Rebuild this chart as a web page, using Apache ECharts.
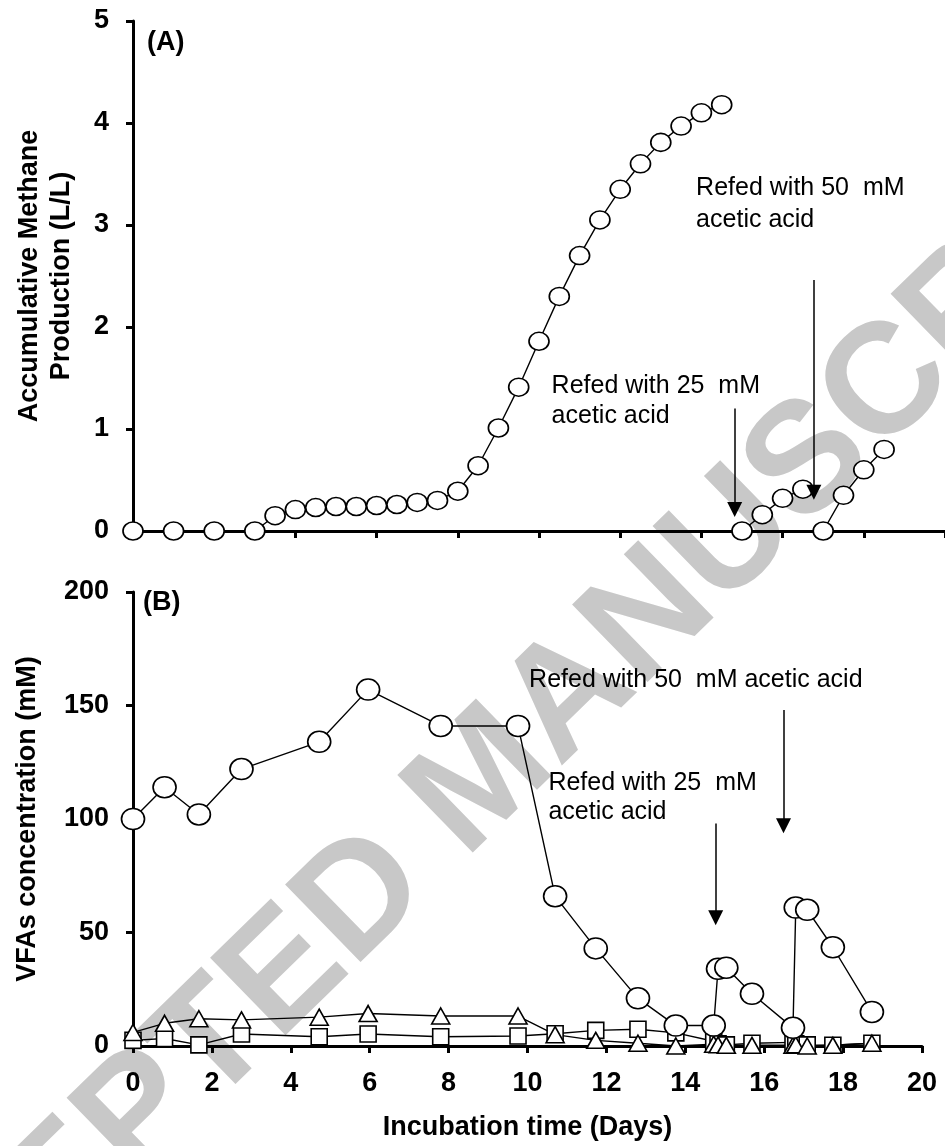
<!DOCTYPE html>
<html lang="en">
<head>
<meta charset="UTF-8">
<title>Methane production and VFAs</title>
<style>
    html, body { margin: 0; padding: 0; background: #fff; }
    #main { width: 945px; height: 1146px; }
</style>
</head>
<body>
<div id="main"></div>
<script src="https://cdn.jsdelivr.net/npm/echarts@6/dist/echarts.min.js"></script>
<script>
    // (A) accumulative methane production, L/L
    const methaneDays = [0, 1, 2, 3, 3.5, 4, 4.5, 5, 5.5, 6, 6.5, 7, 7.5, 8, 8.5, 9, 9.5, 10, 10.5, 11, 11.5, 12, 12.5, 13, 13.5, 14, 14.5];
    const methane = [0, 0, 0, 0, 0.15, 0.21, 0.23, 0.24, 0.24, 0.25, 0.26, 0.28, 0.3, 0.39, 0.64, 1.01, 1.41, 1.86, 2.3, 2.7, 3.05, 3.35, 3.6, 3.81, 3.97, 4.1, 4.18];
    const refeed25Days = [15, 15.5, 16, 16.5];
    const refeed25Methane = [0, 0.16, 0.32, 0.41];
    const refeed50Days = [17, 17.5, 18, 18.5];
    const refeed50Methane = [0, 0.35, 0.6, 0.8];

    // (B) VFAs concentration, mM
    const vfaDays = [0, 0.8, 1.67, 2.75, 4.72, 5.96, 7.8, 9.76, 10.7, 11.73, 12.8, 13.76, 14.72, 14.83, 15.04, 15.69, 16.73, 16.8, 17.09, 17.74, 18.73];
    const vfaCircle = [100, 114, 102, 122, 134, 157, 141, 141, 66, 43, 21, 9, 9, 34, 34.5, 23, 8, 61, 60, 43.5, 15];
    const vfaTriangle = [6, 10, 12, 11.5, 12.7, 14.3, 13.2, 13.2, 5, 2.5, 1.2, 0, 0.8, 0.5, 0.3, 0.3, 0.3, 0.5, 0, 0.3, 1.2];
    const vfaSquare = [2.5, 3.3, 0.5, 5.3, 4.1, 5.3, 4.1, 4.4, 5.4, 6.9, 7.4, 5.8, 2.1, 1.0, 0.5, 1.2, 1.6, 1.0, 0.5, 0.3, 1.2];

    // annotations, in data units of each panel
    const topNotes = [
        {lines: ['Refed with 50  mM', 'acetic acid'], x: 13.87, y: [3.36, 3.05]},
        {lines: ['Refed with 25  mM', 'acetic acid'], x: 10.31, y: [1.42, 1.13]}
    ];
    // [day, start, arrow head centre]
    const topArrows = [[14.82, 1.2, 0.21], [16.77, 2.46, 0.38]];
    const bottomNotes = [
        {lines: ['Refed with 50  mM acetic acid'], x: 10.04, y: [161]},
        {lines: ['Refed with 25  mM', 'acetic acid'], x: 10.53, y: [116, 103]}
    ];
    const bottomArrows = [[14.77, 98, 56.5], [16.49, 148, 97]];

    const FONT = 'Arial, "Liberation Sans", Helvetica, sans-serif';
    const chart = echarts.init(document.getElementById('main'));

    function pairs(xs, ys) {
        return xs.map((x, i) => [x, ys[i]]);
    }

    function lineSeries(idx, data, symbol, size) {
        return {
            type: 'line',
            xAxisIndex: idx,
            yAxisIndex: idx,
            data: data,
            symbol: symbol,
            symbolSize: size,
            showAllSymbol: true,
            clip: false,
            lineStyle: {color: '#000', width: 1.4},
            itemStyle: {color: '#fff', borderColor: '#000', borderWidth: 1.6},
            emphasis: {disabled: true}
        };
    }

    function arrowSeries(idx, arrows) {
        return {
            type: 'line',
            xAxisIndex: idx,
            yAxisIndex: idx,
            data: [],
            markLine: {
                silent: true,
                symbol: ['none', 'triangle'],
                symbolSize: 15,
                label: {show: false},
                lineStyle: {color: '#000', width: 1.5, type: 'solid'},
                data: arrows.map(a => [{coord: [a[0], a[1]]}, {coord: [a[0], a[2]]}])
            }
        };
    }

    const axisLine = {show: true, onZero: false, lineStyle: {color: '#000', width: 3}};
    const axisTick = {show: true, length: 7, lineStyle: {color: '#000', width: 3}};
    const tickLabel = {color: '#000', fontFamily: FONT, fontWeight: 'bold', fontSize: 27};
    const nameStyle = {color: '#000', fontFamily: FONT, fontWeight: 'bold', fontSize: 27, lineHeight: 32};

    const option = {
        animation: false,
        backgroundColor: '#fff',
        grid: [
            {left: 133, top: 21, width: 812, height: 510},
            {left: 133, top: 592, width: 789, height: 454}
        ],
        xAxis: [
            {gridIndex: 0, type: 'value', min: 0, max: 20, interval: 2,
                axisLine, axisTick, axisLabel: {show: false}, splitLine: {show: false}},
            {gridIndex: 1, type: 'value', min: 0, max: 20, interval: 2,
                axisLine, axisTick, axisLabel: Object.assign({margin: 24}, tickLabel), splitLine: {show: false},
                name: 'Incubation time (Days)', nameLocation: 'middle', nameGap: 66, nameTextStyle: nameStyle}
        ],
        yAxis: [
            {gridIndex: 0, type: 'value', min: 0, max: 5, interval: 1,
                axisLine, axisTick, axisLabel: Object.assign({margin: 24}, tickLabel), splitLine: {show: false},
                name: 'Accumulative Methane\nProduction (L/L)', nameLocation: 'middle', nameGap: 55, nameTextStyle: nameStyle},
            {gridIndex: 1, type: 'value', min: 0, max: 200, interval: 50,
                axisLine, axisTick, axisLabel: Object.assign({margin: 24}, tickLabel), splitLine: {show: false},
                name: 'VFAs concentration (mM)', nameLocation: 'middle', nameGap: 89, nameTextStyle: nameStyle}
        ],
        series: [
            lineSeries(0, pairs(methaneDays, methane), 'circle', [20, 18]),
            lineSeries(0, pairs(refeed25Days, refeed25Methane), 'circle', [20, 18]),
            lineSeries(0, pairs(refeed50Days, refeed50Methane), 'circle', [20, 18]),
            lineSeries(1, pairs(vfaDays, vfaSquare), 'rect', [16, 16]),
            lineSeries(1, pairs(vfaDays, vfaTriangle), 'triangle', [18, 16]),
            lineSeries(1, pairs(vfaDays, vfaCircle), 'circle', [23, 21]),
            arrowSeries(0, topArrows),
            arrowSeries(1, bottomArrows)
        ]
    };

    chart.setOption(option);

    // watermark, panel letters and refeed notes
    const graphics = [{
        type: 'text', z: -10, silent: true,
        x: 485, y: 780, rotation: 0.773,
        style: {text: 'ACCEPTED MANUSCRIPT', fill: '#c8c8c8', font: 'bold 157px ' + FONT,
            textAlign: 'center', textVerticalAlign: 'middle'}
    }];
    function addNotes(idx, notes) {
        notes.forEach(n => {
            n.lines.forEach((line, i) => {
                const p = chart.convertToPixel({gridIndex: idx}, [n.x, n.y[i]]);
                graphics.push({
                    type: 'text', z: 10, silent: true, x: p[0], y: p[1],
                    style: {text: line, fill: '#000', font: '25px ' + FONT, textAlign: 'left', textVerticalAlign: 'middle'}
                });
            });
        });
    }
    addNotes(0, topNotes);
    addNotes(1, bottomNotes);
    const pa = chart.convertToPixel({gridIndex: 0}, [0, 5]);
    const pb = chart.convertToPixel({gridIndex: 1}, [0, 200]);
    graphics.push({type: 'text', z: 10, x: pa[0] + 14, y: pa[1] + 22,
        style: {text: '(A)', fill: '#000', font: 'bold 27px ' + FONT, textVerticalAlign: 'middle'}});
    graphics.push({type: 'text', z: 10, x: pb[0] + 10, y: pb[1] + 11,
        style: {text: '(B)', fill: '#000', font: 'bold 27px ' + FONT, textVerticalAlign: 'middle'}});

    chart.setOption({graphic: graphics});
</script>
</body>
</html>
